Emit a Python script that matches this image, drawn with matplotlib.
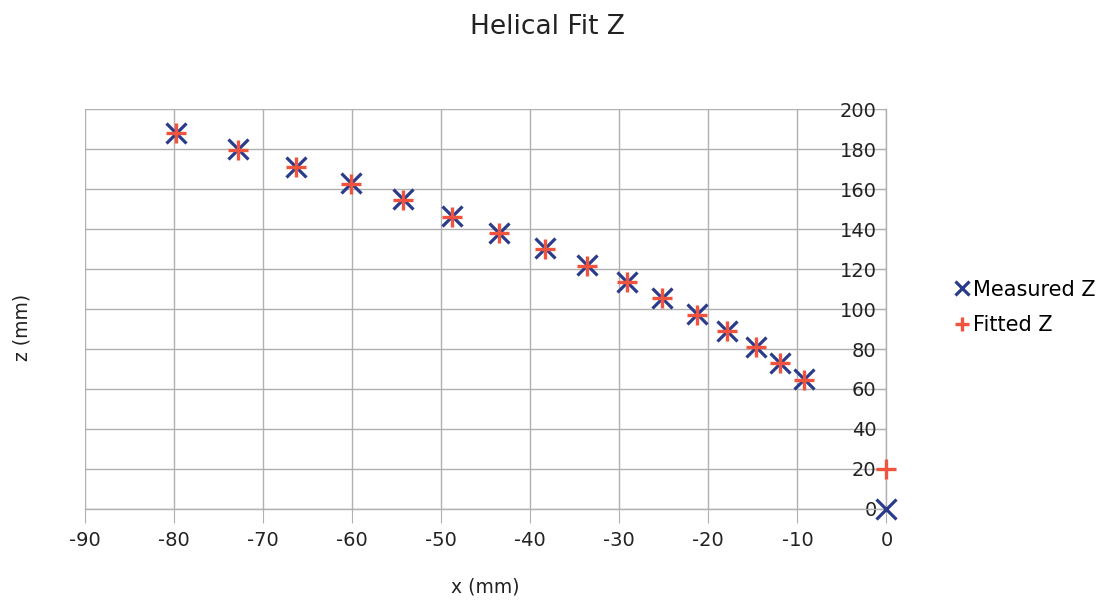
import matplotlib
matplotlib.use("Agg")
import matplotlib.pyplot as plt

# x positions (mm) and z values (mm)
x_measured = [-79.8, -72.8, -66.3, -60.1, -54.3, -48.8, -43.5, -38.3, -33.6,
              -29.1, -25.2, -21.3, -17.9, -14.7, -11.9, -9.3, 0.0]
z_measured = [188.0, 180.0, 171.0, 163.0, 155.0, 146.5, 138.0, 130.5, 122.0,
              113.5, 105.5, 97.5, 89.0, 81.0, 73.0, 65.0, 0.0]

x_fitted = [-79.8, -72.8, -66.3, -60.1, -54.3, -48.8, -43.5, -38.3, -33.6,
            -29.1, -25.2, -21.3, -17.9, -14.7, -11.9, -9.3, 0.0]
z_fitted = [188.0, 179.5, 171.0, 162.5, 154.5, 146.0, 138.0, 130.0, 121.5,
            113.5, 105.5, 97.0, 89.0, 81.0, 73.0, 64.5, 20.0]

navy = "#2b3b8c"
red = "#f0533e"

plt.rcParams['font.family'] = 'DejaVu Sans'
plt.rcParams['axes.unicode_minus'] = False

fig = plt.figure(figsize=(11.1, 6.03), dpi=100)
ax = fig.add_axes([0.0766, 0.156, 0.722, 0.663])

ax.plot(x_measured, z_measured, linestyle='none', marker='x', markersize=14,
        mew=2.3, color=navy, label='Measured Z', clip_on=False, zorder=3)
ax.plot(x_fitted, z_fitted, linestyle='none', marker='+', markersize=14,
        mew=2.4, color=red, label='Fitted Z', clip_on=False, zorder=3)

ax.set_xlim(-90, 0)
ax.set_ylim(0, 200)
ax.set_xticks(range(-90, 1, 10))
ax.set_yticks(range(0, 201, 20))

ax.grid(True, color='#b0b0b0', linewidth=1)
ax.set_axisbelow(True)

# y axis crosses at x = 0, like the spreadsheet chart
ax.spines['left'].set_position(('data', 0))
ax.spines['right'].set_visible(False)
ax.spines['top'].set_visible(False)
for s in ('left', 'bottom'):
    ax.spines[s].set_color('#b0b0b0')
    ax.spines[s].set_linewidth(1)

ax.tick_params(axis='x', direction='out', length=10, color='#b0b0b0',
               labelsize=14, pad=6, labelcolor='#222222')
ax.tick_params(axis='y', direction='out', length=5, color='#b0b0b0',
               labelsize=14, pad=2, labelcolor='#222222')

ax.set_xlabel('x (mm)', fontsize=13.5, labelpad=20, color='#222222')
fig.text(0.02, 1 - 327 / 603, 'z (mm)', rotation=90, ha='center', va='center',
         fontsize=13.5, color='#222222')

fig.text(0.493, 0.955, 'Helical Fit Z', ha='center', va='center',
         fontsize=19, color='#222222')

fig.legend(loc='center left', bbox_to_anchor=(0.843, 0.49), frameon=False,
           fontsize=15, handlelength=0.7, handletextpad=0.2,
           labelspacing=0.75, markerscale=0.7)

fig.savefig('out.png', dpi=100)
